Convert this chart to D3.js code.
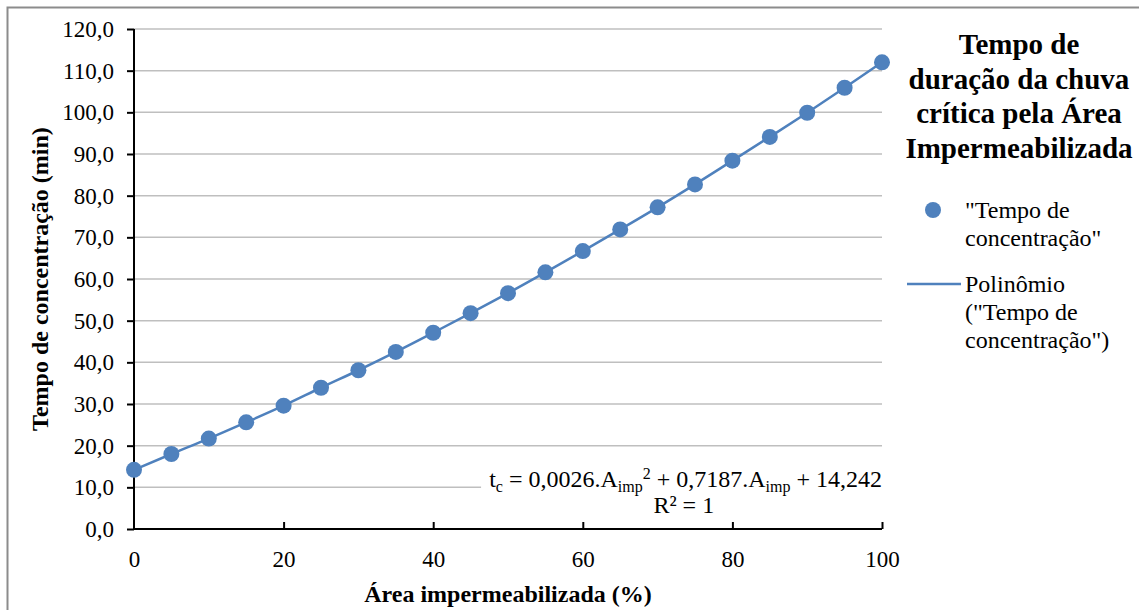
<!DOCTYPE html>
<html>
<head>
<meta charset="utf-8">
<script src="https://cdn.jsdelivr.net/npm/d3@7"></script>
<style>
  body { margin: 0; background: #fff; }
  svg text { font-family: "Liberation Serif", "Times New Roman", serif; }
</style>
</head>
<body>
<div id="chart"></div>
<script>
// data
const areas = [0, 5, 10, 15, 20, 25, 30, 35, 40, 45, 50, 55, 60, 65, 70, 75, 80, 85, 90, 95, 100]
const tempos = [14.2, 18.0, 21.7, 25.6, 29.6, 33.9, 38.1, 42.5, 47.1, 51.8, 56.6, 61.6, 66.7, 71.9, 77.2, 82.7, 88.4, 94.1, 99.9, 105.9, 112.0]
const xTicks = [0, 20, 40, 60, 80, 100]
const yTicks = [0, 10, 20, 30, 40, 50, 60, 70, 80, 90, 100, 110, 120]
const legendTitle = ["Tempo de", "duração da chuva", "crítica pela Área", "Impermeabilizada"]

const W = 1139, H = 610
const margin = { top: 29, right: 257, bottom: 81, left: 134 }
const width = W - margin.left - margin.right
const height = H - margin.top - margin.bottom
const blue = "#4f81bd"

const root = d3.select("#chart").append("svg")
  .attr("width", W)
  .attr("height", H)
  .attr("font-family", "Liberation Serif")

// outer frame (only top/left visible)
root.append("rect")
  .attr("x", 7.5).attr("y", 7.5)
  .attr("width", W + 20).attr("height", H + 20)
  .attr("fill", "none")
  .attr("stroke", "#8c8c8c")
  .attr("stroke-width", 2)

const svg = root.append("g")
  .attr("transform", "translate(" + margin.left + "," + margin.top + ")")

const x = d3.scaleLinear().domain([0, 100]).range([0, width])
const y = d3.scaleLinear().domain([0, 120]).range([height, 0])

// gridlines
svg.append("g")
  .selectAll("line")
  .data(yTicks.filter(d => d > 0))
  .join("line")
  .attr("x1", 0).attr("x2", width)
  .attr("y1", d => y(d)).attr("y2", d => y(d))
  .attr("stroke", "#bfbfbf")
  .attr("stroke-width", 1.5)

// equation label box (hides grid behind text)
svg.append("rect")
  .attr("x", x(46.4)).attr("y", y(13))
  .attr("width", x(100) - x(46.4) + 4).attr("height", y(0) - y(13) - 4)
  .attr("fill", "#fff")

const eq = svg.append("text")
  .attr("x", width)
  .attr("y", y(10))
  .attr("text-anchor", "end")
  .attr("font-size", 24)
  .attr("fill", "#000")
eq.append("tspan").text("t")
eq.append("tspan").text("c").attr("font-size", 16).attr("dy", 5)
eq.append("tspan").text(" = 0,0026.A").attr("dy", -5)
eq.append("tspan").text("imp").attr("font-size", 16).attr("dy", 5)
eq.append("tspan").text("2").attr("font-size", 16).attr("dy", -13)
eq.append("tspan").text(" + 0,7187.A").attr("dy", 8)
eq.append("tspan").text("imp").attr("font-size", 16).attr("dy", 5)
eq.append("tspan").text(" + 14,242").attr("dy", -5)

svg.append("text")
  .attr("x", x(73.5))
  .attr("y", y(3.9))
  .attr("text-anchor", "middle")
  .attr("font-size", 24)
  .text("R² = 1")

// axes
const fmt = d => d3.format(".1f")(d).replace(".", ",")
const yAxis = d3.axisLeft(y).tickValues(yTicks).tickFormat(fmt).tickSize(7).tickPadding(13)
const gy = svg.append("g").attr("class", "axis y-axis").call(yAxis)

const xAxis = d3.axisBottom(x).tickValues(xTicks).tickSize(7).tickPadding(15)
const gx = svg.append("g")
  .attr("class", "axis x-axis")
  .attr("transform", "translate(0," + height + ")")
  .call(xAxis)

root.selectAll(".axis path, .axis line").attr("stroke", "#000").attr("stroke-width", 2)
gy.select(".domain").attr("d", "M0," + height + "V0")
gx.select(".domain").attr("d", "M0,0H" + width)
gx.selectAll(".tick line").attr("y1", -7).attr("y2", 0)
gx.selectAll(".tick line").filter(d => d === 0).remove()
root.selectAll(".axis text")
  .attr("font-size", 23)
  .attr("font-family", "Liberation Serif")
  .attr("fill", "#000")

// trend line
const line = d3.line().x((d, i) => x(areas[i])).y(d => y(d)).curve(d3.curveMonotoneX)
svg.append("path")
  .datum(tempos)
  .attr("d", line)
  .attr("fill", "none")
  .attr("stroke", blue)
  .attr("stroke-width", 2.5)

// points
svg.selectAll("circle.pt")
  .data(tempos)
  .join("circle")
  .attr("class", "pt")
  .attr("cx", (d, i) => x(areas[i]))
  .attr("cy", d => y(d))
  .attr("r", 8)
  .attr("fill", blue)

// axis titles
root.append("text")
  .attr("x", 508)
  .attr("y", 602)
  .attr("text-anchor", "middle")
  .attr("font-size", 24)
  .attr("font-weight", "bold")
  .text("Área impermeabilizada (%)")

root.append("text")
  .attr("transform", "translate(48," + (margin.top + height / 2) + ") rotate(-90)")
  .attr("text-anchor", "middle")
  .attr("font-size", 24)
  .attr("font-weight", "bold")
  .text("Tempo de concentração (min)")

// legend
const legend = root.append("g")
legend.selectAll("text.title")
  .data(legendTitle)
  .join("text")
  .attr("class", "title")
  .attr("x", 1019)
  .attr("y", (d, i) => 54 + i * 34.5)
  .attr("text-anchor", "middle")
  .attr("font-size", 29)
  .attr("font-weight", "bold")
  .text(d => d)

legend.append("circle")
  .attr("cx", 933).attr("cy", 210).attr("r", 8).attr("fill", blue)
legend.selectAll("text.l1")
  .data(['"Tempo de', 'concentração"'])
  .join("text")
  .attr("class", "l1")
  .attr("x", 965)
  .attr("y", (d, i) => 218 + i * 28)
  .attr("font-size", 24)
  .text(d => d)

legend.append("line")
  .attr("x1", 907).attr("x2", 961).attr("y1", 284).attr("y2", 284)
  .attr("stroke", blue).attr("stroke-width", 2.5)
legend.selectAll("text.l2")
  .data(["Polinômio", '("Tempo de', 'concentração")'])
  .join("text")
  .attr("class", "l2")
  .attr("x", 965)
  .attr("y", (d, i) => 292 + i * 28)
  .attr("font-size", 24)
  .text(d => d)
</script>
</body>
</html>
